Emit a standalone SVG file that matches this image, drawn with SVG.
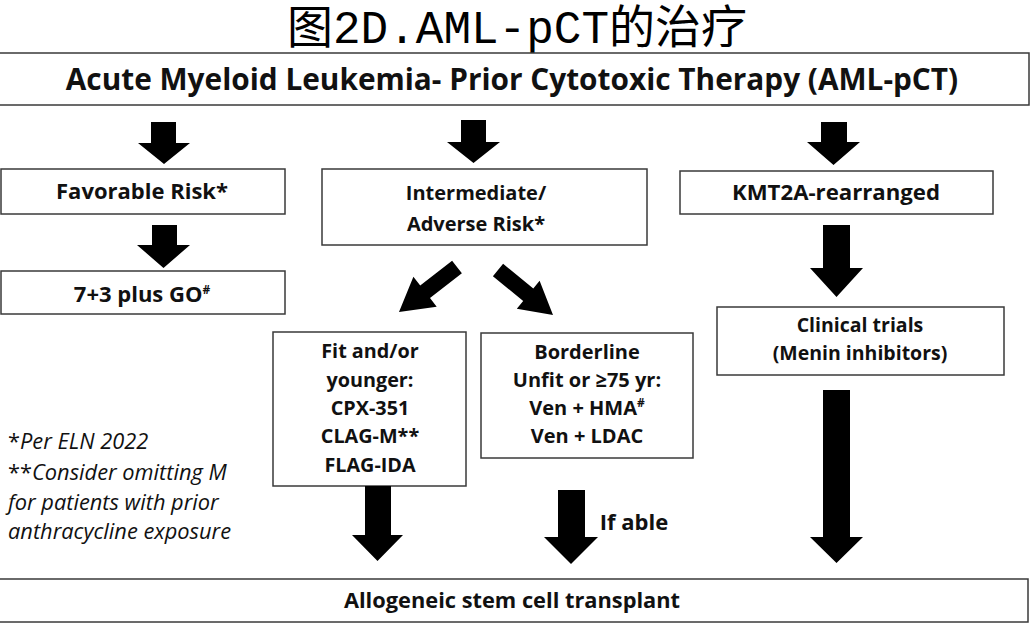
<svg xmlns="http://www.w3.org/2000/svg" width="1034" height="624" viewBox="0 0 1034 624">
<style>
.box{fill:#fff;stroke:#3a3a3a;stroke-width:1.5}
.t{font-family:"Open Sans",Lato,"Liberation Sans",sans-serif;font-weight:bold;fill:#111;text-anchor:middle}
.fn{font-family:"Open Sans",Lato,"Liberation Sans",sans-serif;font-style:italic;fill:#111;font-size:21.8px}
.arr{fill:#000}
.sup{font-size:12px}
</style>
<rect width="1034" height="624" fill="#fff"/>
<text x="517" y="43" font-family="'Liberation Mono','Noto Sans CJK SC',monospace" font-size="46" text-anchor="middle" fill="#000">图2D.AML-pCT的治疗</text>

<g id="n-root"><rect class="box" x="-2" y="53" width="1031" height="52"/><text class="t" x="512" y="90" font-size="29.8">Acute Myeloid Leukemia- Prior Cytotoxic Therapy (AML-pCT)</text></g>
<g id="n-fav"><rect class="box" x="1" y="169" width="284" height="45"/><text class="t" x="142" y="199" font-size="22">Favorable Risk*</text></g>
<g id="n-73"><rect class="box" x="1" y="271" width="284" height="43"/><text class="t" x="142" y="302" font-size="22">7+3 plus GO<tspan class="sup" dy="-8">#</tspan></text></g>
<g id="n-int"><rect class="box" x="322" y="169" width="325" height="76"/><text class="t" x="476" y="200" font-size="20">Intermediate/</text><text class="t" x="476" y="231" font-size="20">Adverse Risk*</text></g>
<g id="n-kmt"><rect class="box" x="680" y="171" width="313" height="43"/><text class="t" x="836" y="200" font-size="22.2">KMT2A-rearranged</text></g>
<g id="n-clin"><rect class="box" x="717" y="307" width="287" height="68"/><text class="t" x="860" y="332" font-size="19.5">Clinical trials</text><text class="t" x="860" y="360" font-size="19.5">(Menin inhibitors)</text></g>
<g id="n-fit"><rect class="box" x="273" y="332" width="193" height="154"/>
<text class="t" x="370" y="358" font-size="19.8">Fit and/or</text>
<text class="t" x="370" y="387" font-size="19.8">younger:</text>
<text class="t" x="370" y="415" font-size="19.8">CPX-351</text>
<text class="t" x="370" y="443" font-size="19.8">CLAG-M**</text>
<text class="t" x="370" y="472" font-size="19.8">FLAG-IDA</text></g>
<g id="n-border"><rect class="box" x="481" y="333" width="212" height="125"/>
<text class="t" x="587" y="359" font-size="20">Borderline</text>
<text class="t" x="587" y="387" font-size="20">Unfit or ≥75 yr:</text>
<text class="t" x="587" y="415" font-size="20">Ven + HMA<tspan class="sup" dy="-8">#</tspan></text>
<text class="t" x="587" y="443" font-size="20">Ven + LDAC</text></g>
<g id="n-allo"><rect class="box" x="-2" y="579" width="1030" height="43"/><text class="t" x="512" y="608" font-size="21.8">Allogeneic stem cell transplant</text></g>

<g id="notes">
<text class="fn" x="8" y="449"><tspan font-style="normal">*</tspan>Per ELN 2022</text>
<text class="fn" x="8" y="480"><tspan font-style="normal">**</tspan>Consider omitting M</text>
<text class="fn" x="8" y="510">for patients with prior</text>
<text class="fn" x="8" y="539">anthracycline exposure</text>
</g>

<g id="connectors">
<polygon class="arr" points="151,122 176,122 176,143 190,143 164,164 138,143 151,143"/>
<polygon class="arr" points="152,225 177,225 177,245 190,245 163.5,268 137,245 152,245"/>
<polygon class="arr" points="461,120 486,120 486,142 500,142 473.5,163 447,142 461,142"/>
<polygon class="arr" points="821,122 847,122 847,142 860,142 833.5,165 807,142 821,142"/>
<polygon class="arr" points="823,225 850,225 850,268 863,268 836.5,297 810,268 823,268"/>
<polygon class="arr" points="823,390 850,390 850,537 863,537 836.5,563 810,537 823,537"/>
<polygon class="arr" points="365,486 391,486 391,535 403,535 377.5,561 352,535 365,535"/>
<polygon class="arr" points="558,490 585,490 585,537 598,537 571,564 544,537 558,537"/>
<polygon class="arr" points="452.1,260.7 420.2,285.4 413.4,276.8 399,312 436.7,306.8 430,298.1 461.9,273.3"/>
<polygon class="arr" points="503.1,263.8 533.3,288.5 539.6,280.8 553,315 516.8,308.7 523.2,300.9 492.9,276.2"/>
<text class="t" x="634" y="530" font-size="22">If able</text>
</g>
</svg>
